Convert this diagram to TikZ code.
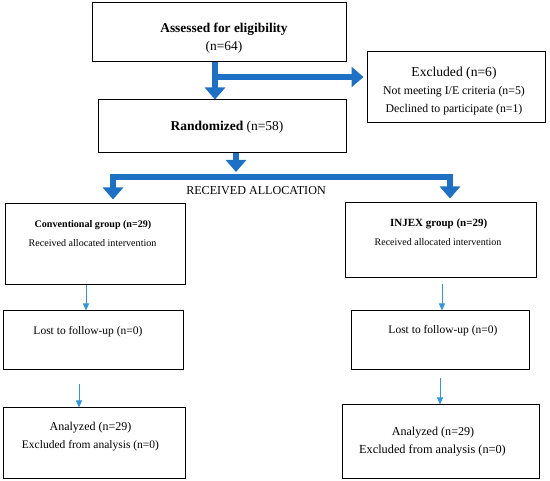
\documentclass[tikz,border=0pt]{standalone}
\usepackage{fontspec}
\setmainfont{Liberation Serif}
\usetikzlibrary{arrows.meta}
\definecolor{bigblue}{RGB}{30,112,196}
\definecolor{thinblue}{RGB}{50,150,215}
\tikzset{
  box/.style={draw=black, line width=1pt, inner sep=0pt},
  lbl/.style={inner sep=0pt, anchor=center, align=center},
  bigarrow/.style={draw=bigblue, line width=6pt, -{Triangle[width=20pt,length=12pt]}},
  bigbar/.style={draw=bigblue, line width=6pt, line join=miter, {Triangle[width=20pt,length=12pt]}-{Triangle[width=20pt,length=12pt]}},
  thinarrow/.style={draw=thinblue, line width=0.9pt, -{Triangle[width=6pt,length=7pt]}}
}
\begin{document}
\begin{tikzpicture}[x=1pt,y=-1pt]
\useasboundingbox (0,0) rectangle (550,481);
% boxes
\node[box, minimum width=254pt, minimum height=59pt] (assess) at (219,32.5) {};
\node[box, minimum width=178pt, minimum height=71pt] (excl) at (456,87.5) {};
\node[box, minimum width=248pt, minimum height=53pt] (rand) at (222,126.5) {};
\node[box, minimum width=180pt, minimum height=81pt] (conv) at (95,244.5) {};
\node[box, minimum width=180pt, minimum height=59pt] (lostL) at (93,340.5) {};
\node[box, minimum width=182pt, minimum height=71pt] (anaL) at (94,443.5) {};
\node[box, minimum width=191pt, minimum height=75pt] (injex) at (440.5,240.5) {};
\node[box, minimum width=178pt, minimum height=59pt] (lostR) at (440,340.5) {};
\node[box, minimum width=197pt, minimum height=74pt] (anaR) at (440.5,442) {};
% texts
\node[lbl, font=\fontsize{13.4}{15}\selectfont\bfseries] (t1) at (224,29) {Assessed for eligibility};
\node[lbl, font=\fontsize{13.4}{15}\selectfont] (t2) at (224,47.5) {(n=64)};
\node[lbl, font=\fontsize{13.6}{15}\selectfont] (t3) at (454,73) {Excluded (n=6)};
\node[lbl, font=\fontsize{11.8}{13}\selectfont] (t4) at (454,92) {Not meeting I/E criteria (n=5)};
\node[lbl, font=\fontsize{11.8}{13}\selectfont] (t5) at (454,110) {Declined to participate (n=1)};
\node[lbl, font=\fontsize{13.5}{15}\selectfont] (t6) at (227,127) {\textbf{Randomized} (n=58)};
\node[lbl, font=\fontsize{12.1}{13}\selectfont] (t7) at (256,191) {RECEIVED ALLOCATION};
\node[lbl, font=\fontsize{10.1}{12}\selectfont\bfseries] (t8) at (93,225) {Conventional group (n=29)};
\node[lbl, font=\fontsize{10.1}{12}\selectfont] (t9) at (92.5,243) {Received allocated intervention};
\node[lbl, font=\fontsize{11.5}{13}\selectfont] (t10) at (88,332) {Lost to follow-up (n=0)};
\node[lbl, font=\fontsize{12}{14}\selectfont] (t11) at (90.5,427.5) {Analyzed (n=29)};
\node[lbl, font=\fontsize{11.5}{13}\selectfont] (t12) at (90.5,446) {Excluded from analysis (n=0)};
\node[lbl, font=\fontsize{11}{12}\selectfont\bfseries] (t13) at (438.7,224) {INJEX group (n=29)};
\node[lbl, font=\fontsize{10}{12}\selectfont] (t14) at (438,242) {Received allocated intervention};
\node[lbl, font=\fontsize{11.5}{13}\selectfont] (t15) at (443,331) {Lost to follow-up (n=0)};
\node[lbl, font=\fontsize{12.1}{14}\selectfont] (t16) at (433,432.7) {Analyzed (n=29)};
\node[lbl, font=\fontsize{12.3}{14}\selectfont] (t17) at (432.5,450.7) {Excluded from analysis (n=0)};
% thick arrows
\coordinate (a1) at (215,0);
\coordinate (hsplit) at (215,77);
\draw[bigarrow] (assess.south -| a1) -- (rand.north -| a1);
\draw[bigarrow, shorten >=3pt] (hsplit) -- (hsplit -| excl.west);
\coordinate (a2) at (236,0);
\coordinate (a2end) at (236,172);
\coordinate (barY) at (0,177);
\draw[bigarrow] (rand.south -| a2) -- (a2end);
\coordinate (bl) at (113,0);
\coordinate (br) at (450,0);
\draw[bigbar, shorten <=4pt, shorten >=4pt] (conv.north -| bl) -- (barY -| bl) -- (barY -| br) -- (injex.north -| br);
% thin arrows
\coordinate (l1) at (86,0);
\draw[thinarrow] (conv.south -| l1) -- (lostL.north -| l1);
\coordinate (l2s) at (79,384);
\draw[thinarrow] (l2s) -- (anaL.north -| l2s);
\coordinate (r1s) at (442,284);
\draw[thinarrow] (r1s) -- (lostR.north -| r1s);
\coordinate (r2s) at (440,378);
\draw[thinarrow] (r2s) -- (anaR.north -| r2s);
\end{tikzpicture}
\end{document}
